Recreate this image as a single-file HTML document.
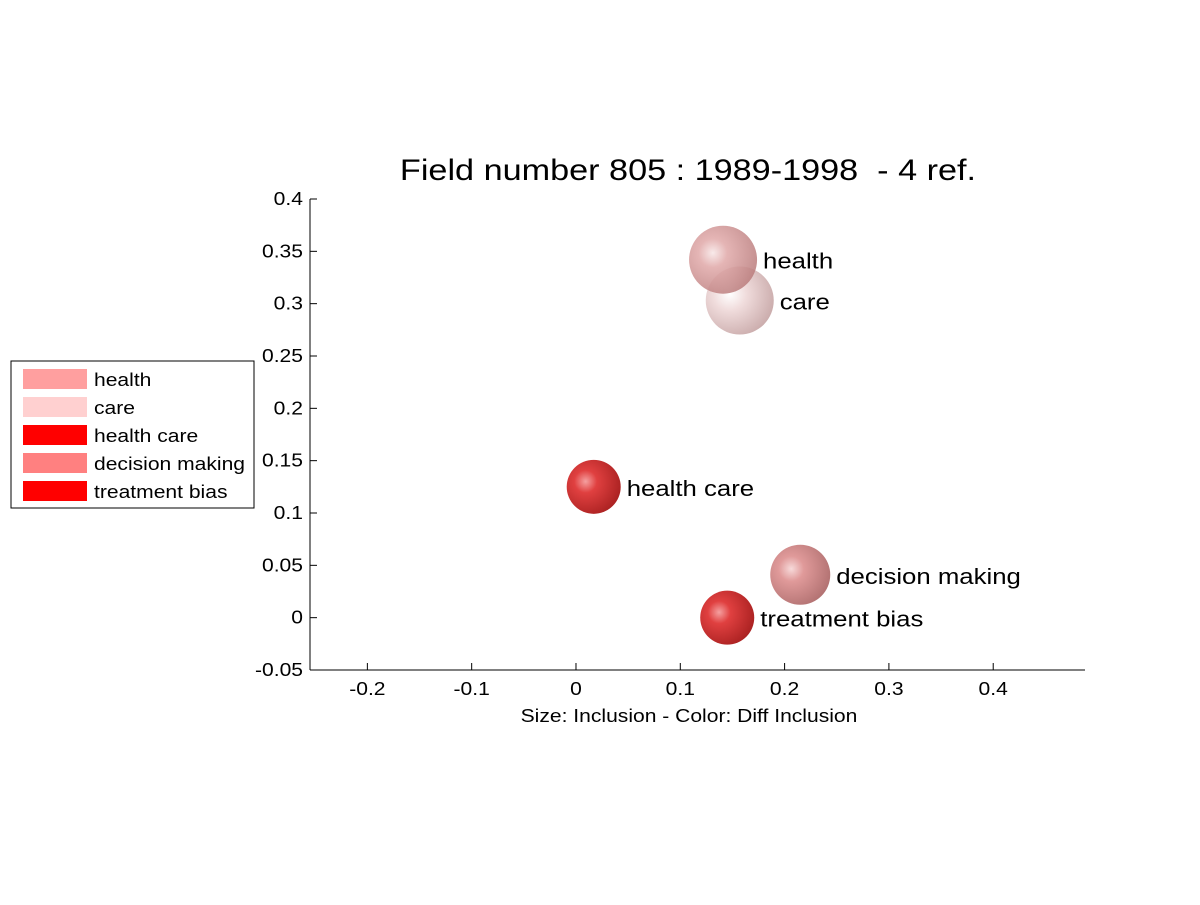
<!DOCTYPE html>
<html><head><meta charset="utf-8"><style>
body{margin:0;background:#fff;}
svg text{font-family:"Liberation Sans",sans-serif;white-space:pre;}
</style></head><body>
<svg width="1200" height="900" viewBox="0 0 1200 900">
<defs>
<radialGradient id="gHealth" cx="0.35" cy="0.4" r="0.7"><stop offset="0" stop-color="#f7e6e6"/><stop offset="0.3" stop-color="#e0a8a8"/><stop offset="1" stop-color="#b87a7a"/></radialGradient>
<radialGradient id="gCare" cx="0.35" cy="0.4" r="0.7"><stop offset="0" stop-color="#ffffff"/><stop offset="0.35" stop-color="#f0dcdc"/><stop offset="1" stop-color="#c9aaaa"/></radialGradient>
<radialGradient id="gRed" cx="0.35" cy="0.4" r="0.7"><stop offset="0" stop-color="#f5a0a0"/><stop offset="0.3" stop-color="#e04040"/><stop offset="1" stop-color="#a82020"/></radialGradient>
<radialGradient id="gDec" cx="0.35" cy="0.4" r="0.7"><stop offset="0" stop-color="#f7dada"/><stop offset="0.3" stop-color="#e09a9a"/><stop offset="1" stop-color="#b07070"/></radialGradient>
</defs>
<text x="688" y="180" font-size="30" text-anchor="middle" data-k="1.14">Field number 805 : 1989-1998  - 4 ref.</text>
<g id="axes"></g>
<g id="bubbles"></g>
<text x="689" y="722" font-size="18" text-anchor="middle">Size: Inclusion - Color: Diff Inclusion</text>
<g>
<rect x="11" y="361" width="243" height="147" fill="#fff" stroke="#000" stroke-width="1"/>
<g id="legend"></g>
</g>
</svg>
<script>
const labels=["health","care","health care","decision making","treatment bias"];
const xs=[0.141,0.157,0.017,0.215,0.145];
const ys=[0.342,0.303,0.125,0.041,0.0];
const radii=[34,34,27,30,27];
const fills=["url(#gHealth)","url(#gCare)","url(#gRed)","url(#gDec)","url(#gRed)"];
const legendColors=["#ff9f9f","#ffd0d0","#ff0000","#ff8080","#ff0000"];
const xTicks=[-0.2,-0.1,0,0.1,0.2,0.3,0.4];
const yTicks=[-0.05,0,0.05,0.1,0.15,0.2,0.25,0.3,0.35,0.4];
const xMin=-0.255,xMax=0.488,yMin=-0.05,yMax=0.4;
const L=310,R=1085,T=199,B=670;
const sx=v=>L+(v-xMin)/(xMax-xMin)*(R-L);
const sy=v=>B-(v-yMin)/(yMax-yMin)*(B-T);
const NS="http://www.w3.org/2000/svg";
function mk(t,a,p){const e=document.createElementNS(NS,t);for(const k in a)e.setAttribute(k,a[k]);p.appendChild(e);return e;}
const ax=document.getElementById('axes');
let l=mk('line',{x1:L,y1:T,x2:L,y2:B,stroke:'#000'},ax);


l=mk('line',{x1:L,y1:B,x2:R,y2:B,stroke:'#000'},ax);


xTicks.forEach(v=>{const x=sx(v);
mk('line',{x1:x,y1:B,x2:x,y2:B-7,stroke:'#000'},ax);
const t=mk('text',{x:x,y:B+25,'font-size':18,'text-anchor':'middle'},ax);t.textContent=String(v);

});
yTicks.forEach(v=>{const y=sy(v);
mk('line',{x1:L,y1:y,x2:L+7,y2:y,stroke:'#000'},ax);
const t=mk('text',{x:L-7,y:y+6,'font-size':18,'text-anchor':'end'},ax);t.textContent=String(v);

});
const bg=document.getElementById('bubbles');
labels.forEach((n,i)=>{const cx=sx(xs[i]),cy=sy(ys[i]);
const c=mk('circle',{cx:cx,cy:cy,r:radii[i],fill:fills[i],'fill-opacity':i===0?0.85:1},bg);


const t=mk('text',{x:cx+radii[i]+6,y:cy+9,'font-size':22},bg);t.textContent=n;

});
bg.appendChild(bg.children[0]);bg.appendChild(bg.children[0]);
const lg=document.getElementById('legend');
labels.forEach((n,i)=>{const y=369+i*28;
const r=mk('rect',{x:23,y:y,width:64,height:20,fill:legendColors[i]},lg);


const t=mk('text',{x:94,y:y+17,'font-size':18},lg);t.textContent=n;

});
document.querySelectorAll('svg text').forEach(t=>{
const k=parseFloat(t.getAttribute('data-k')||'1.17');
const w=t.getComputedTextLength();
t.setAttribute('textLength',(w*k).toFixed(1));
t.setAttribute('lengthAdjust','spacingAndGlyphs');});
</script>
</body></html>
